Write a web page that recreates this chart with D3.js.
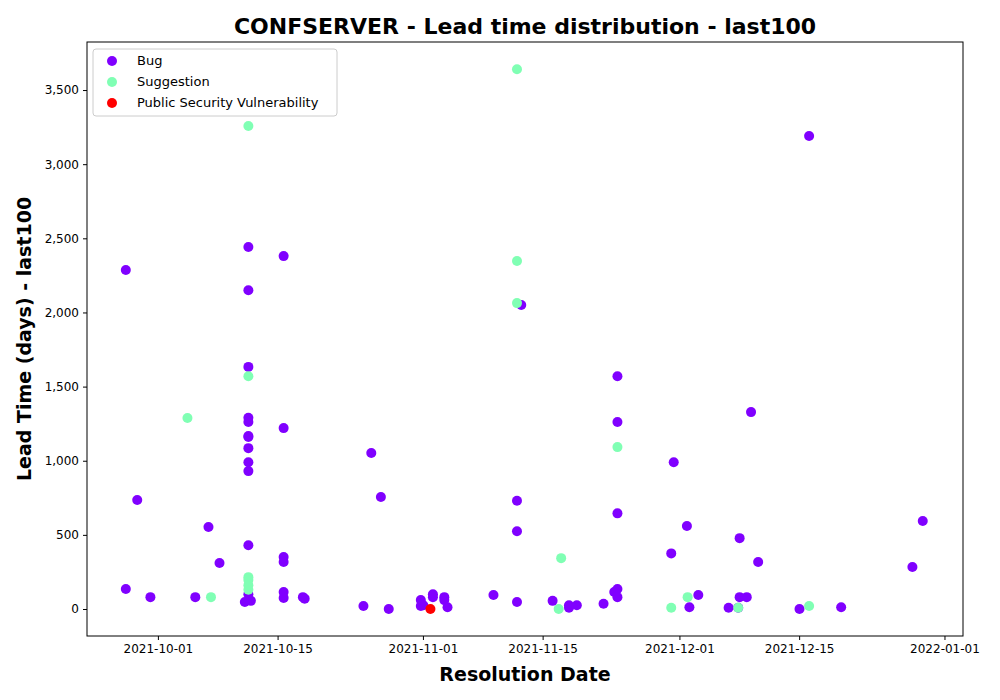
<!DOCTYPE html>
<html>
<head>
<meta charset="utf-8">
<script src="https://cdn.jsdelivr.net/npm/d3@7"></script>
<style>
  body { margin: 0; background: #fff; font-family: "DejaVu Sans", sans-serif; }
</style>
</head>
<body>
<svg id="chart" width="1000" height="700"></svg>
<script>
// Bug issues: resolution date, lead time (days)
var bugDates = ["2021-09-27 06","2021-09-27 06","2021-09-28 14","2021-09-30 03","2021-10-05 09","2021-10-06 22","2021-10-08 05",
  "2021-10-11 04","2021-10-11 14","2021-10-11 14","2021-10-11 14","2021-10-11 14","2021-10-11 14","2021-10-11 14","2021-10-11 14",
  "2021-10-11 14","2021-10-11 14","2021-10-11 14","2021-10-11 14","2021-10-11 14","2021-10-11 21",
  "2021-10-15 17","2021-10-15 17","2021-10-15 17","2021-10-15 17","2021-10-15 17","2021-10-15 17","2021-10-17 23","2021-10-18 04",
  "2021-10-25 01","2021-10-25 23","2021-10-27 02","2021-10-28 00","2021-10-31 18","2021-10-31 18","2021-11-01 01",
  "2021-11-02 04","2021-11-02 04","2021-11-03 12","2021-11-03 12","2021-11-03 21","2021-11-09 06",
  "2021-11-12 00","2021-11-12 00","2021-11-12 00","2021-11-12 12","2021-11-16 04","2021-11-18 02","2021-11-18 02","2021-11-19 00",
  "2021-11-22 03","2021-11-23 09","2021-11-23 18","2021-11-23 18","2021-11-23 18","2021-11-23 18","2021-11-23 18",
  "2021-11-30 08","2021-11-30 01","2021-12-01 21","2021-12-02 04","2021-12-03 05","2021-12-06 18","2021-12-07 21","2021-12-08 01",
  "2021-12-08 01","2021-12-08 21","2021-12-09 09","2021-12-10 05","2021-12-15 01","2021-12-16 04","2021-12-19 22","2021-12-28 06","2021-12-29 11"];
var bugLead = [2286,135,735,80,80,553,310,
  47,2441,2150,1633,1290,1261,1167,1160,
  1085,990,930,430,100,55,
  2380,1220,350,317,115,75,80,70,
  20,1052,755,0,60,20,25,
  100,80,80,60,12,95,
  47,730,525,2050,55,8,25,25,
  35,115,1570,1261,645,135,80,
  990,375,560,12,95,8,8,80,
  478,80,1328,317,0,3190,12,283,593];

// Suggestion issues
var sugDates = ["2021-10-04 11","2021-10-07 05","2021-10-11 14","2021-10-11 14","2021-10-11 14","2021-10-11 14","2021-10-11 14","2021-10-11 14",
  "2021-11-12 00","2021-11-12 00","2021-11-12 00","2021-11-16 21","2021-11-17 04","2021-11-23 18","2021-11-30 01","2021-12-01 23",
  "2021-12-07 21","2021-12-16 04"];
var sugLead = [1288,80,3257,1570,215,195,160,130,3640,2347,2063,0,343,1092,8,80,8,20];

// Public Security Vulnerability
var secDates = ["2021-11-01 21"];
var secLead = [0];

var xTicks = ["2021-10-01","2021-10-15","2021-11-01","2021-11-15","2021-12-01","2021-12-15","2022-01-01"];
var yTicks = [0,500,1000,1500,2000,2500,3000,3500];

var parse = d3.utcParse("%Y-%m-%d %H");
var parseDay = d3.utcParse("%Y-%m-%d");

var series = [
  {name: "Bug", color: "#8000ff", dates: bugDates, vals: bugLead},
  {name: "Suggestion", color: "#80ffb4", dates: sugDates, vals: sugLead},
  {name: "Public Security Vulnerability", color: "#ff0000", dates: secDates, vals: secLead}
];

var svg = d3.select("#chart");
var mLeft = 87, mRight = 963, mTop = 42, mBottom = 636;

var x = d3.scaleUtc()
  .domain([parse("2021-09-22 17"), parse("2022-01-03 04")])
  .range([mLeft, mRight]);
var y = d3.scaleLinear().domain([-182, 3824]).range([mBottom, mTop]);

// points
series.forEach(function(s) {
  svg.append("g").selectAll("circle")
    .data(s.dates.map(function(d, i) { return {d: parse(d), v: s.vals[i]}; }))
    .enter().append("circle")
    .attr("cx", function(p) { return x(p.d); })
    .attr("cy", function(p) { return y(p.v); })
    .attr("r", 5)
    .attr("fill", s.color);
});

// axes
var xAxis = d3.axisBottom(x)
  .tickValues(xTicks.map(function(t) { return parseDay(t); }))
  .tickFormat(d3.utcFormat("%Y-%m-%d"))
  .tickSize(4).tickPadding(4);
var yAxis = d3.axisLeft(y).tickValues(yTicks).tickSize(4).tickPadding(4);

var gx = svg.append("g").attr("transform", "translate(0," + mBottom + ")").call(xAxis);
var gy = svg.append("g").attr("transform", "translate(" + mLeft + ",0)").call(yAxis);
[gx, gy].forEach(function(g) {
  g.select(".domain").remove();
  g.selectAll("text").attr("font-family", "DejaVu Sans").attr("font-size", 12).attr("fill", "#000");
  g.selectAll("line").attr("stroke", "#000");
});

svg.append("rect").attr("x", mLeft).attr("y", mTop)
  .attr("width", mRight - mLeft).attr("height", mBottom - mTop)
  .attr("fill", "none").attr("stroke", "#000").attr("stroke-width", 1);

// titles
svg.append("text").attr("x", (mLeft + mRight) / 2).attr("y", 34)
  .attr("text-anchor", "middle").attr("font-size", 22).attr("font-weight", "bold")
  .text("CONFSERVER - Lead time distribution - last100");
svg.append("text").attr("x", (mLeft + mRight) / 2).attr("y", 681)
  .attr("text-anchor", "middle").attr("font-size", 19).attr("font-weight", "bold")
  .text("Resolution Date");
svg.append("text").attr("transform", "translate(31," + (mTop + mBottom) / 2 + ") rotate(-90)")
  .attr("text-anchor", "middle").attr("font-size", 19).attr("font-weight", "bold")
  .text("Lead Time (days) - last100");

// legend
var lg = svg.append("g").attr("transform", "translate(93,49)");
lg.append("rect").attr("width", 244).attr("height", 67).attr("rx", 3)
  .attr("fill", "#fff").attr("fill-opacity", 0.8).attr("stroke", "#ccc");
series.forEach(function(s, i) {
  lg.append("circle").attr("cx", 19).attr("cy", 12 + i * 21).attr("r", 5).attr("fill", s.color);
  lg.append("text").attr("x", 44).attr("y", 16 + i * 21).attr("font-size", 13).text(s.name);
});
</script>
</body>
</html>
